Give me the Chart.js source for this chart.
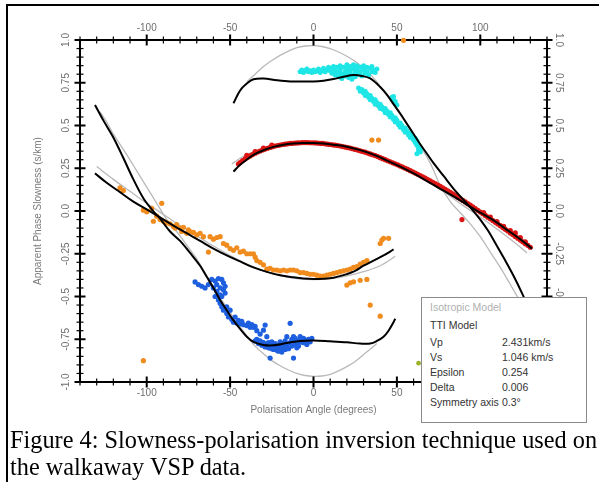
<!DOCTYPE html>
<html>
<head>
<meta charset="utf-8">
<script src="https://cdn.jsdelivr.net/npm/chart.js@4"></script>
<style>
html,body{margin:0;padding:0;background:#fff;}
#wrap{position:relative;width:599px;height:482px;overflow:hidden;background:#fff;}
#c{position:absolute;left:0;top:0;}
#frame{position:absolute;left:6px;top:4px;width:700px;height:600px;border-left:2px solid #000;border-top:2px solid #000;pointer-events:none;}
#legend{position:absolute;left:421px;top:297px;width:164px;height:124px;background:#fff;border:1px solid #8a8a8a;font-family:'Liberation Sans',Arial,sans-serif;font-size:10.5px;line-height:12px;color:#333;}
#legend .r{position:absolute;left:8px;white-space:nowrap;}
#legend .v{position:absolute;left:80px;white-space:nowrap;}
#caption{position:absolute;left:10px;top:426px;font-family:'Liberation Serif','Times New Roman',serif;font-size:24.3px;line-height:27px;color:#000;white-space:nowrap;}
</style>
</head>
<body>
<div id="wrap">
<canvas id="c" width="599" height="482"></canvas>
<div id="frame"></div>
<div id="legend">
  <div class="r" style="top:3px;color:#b0b0b0">Isotropic Model</div>
  <div class="r" style="top:21px">TTI Model</div>
  <div class="r" style="top:38px">Vp</div><div class="v" style="top:38px">2.431km/s</div>
  <div class="r" style="top:53px">Vs</div><div class="v" style="top:53px">1.046 km/s</div>
  <div class="r" style="top:68px">Epsilon</div><div class="v" style="top:68px">0.254</div>
  <div class="r" style="top:83px">Delta</div><div class="v" style="top:83px">0.006</div>
  <div class="r" style="top:98px">Symmetry axis</div><div class="v" style="top:98px">0.3°</div>
</div>
<div id="caption">Figure 4: Slowness-polarisation inversion technique used on<br>the walkaway VSP data.</div>
</div>
<script>
// ---- tick labels ----
const xLabelValues = [-100, -50, 0, 50, 100];
const yLabelValues = [1, 0.75, 0.5, 0.25, 0, -0.25, -0.5, -0.75, -1];
const yLabelText   = ['1.0', '0.75', '0.5', '0.25', '0.0', '-0.25', '-0.5', '-0.75', '-1.0'];

// ---- TTI model curves (black) [angle, slowness] ----
const ttiQsUpper = [[-48,0.63],[-44,0.705],[-40,0.745],[-36,0.77],[-30,0.775],[-22,0.765],[-14,0.758],[-6,0.757],[0,0.757],[6,0.762],[12,0.772],[18,0.785],[24,0.795],[29,0.79],[34,0.775],[40,0.725],[44,0.68],[48,0.625],[52,0.57],[56,0.51],[60,0.45],[64,0.39],[68,0.335],[72,0.28],[78,0.205],[84,0.13],[90,0.065],[95,0.01],[100,-0.05],[105,-0.12],[110,-0.205],[115,-0.29],[120,-0.38],[125,-0.48],[130,-0.59]];
const ttiQsLower = [[-131,0.62],[-126,0.53],[-120,0.43],[-114,0.31],[-108,0.185],[-102,0.075],[-97,0.01],[-92,-0.045],[-86,-0.12],[-80,-0.175],[-74,-0.245],[-68,-0.32],[-64,-0.385],[-60,-0.45],[-56,-0.52],[-52,-0.58],[-48,-0.64],[-44,-0.69],[-40,-0.735],[-36,-0.765],[-30,-0.783],[-24,-0.785],[-16,-0.772],[-8,-0.76],[0,-0.757],[10,-0.762],[20,-0.768],[28,-0.775],[34,-0.775],[38,-0.76],[42,-0.735],[45,-0.70],[48,-0.65],[49,-0.63]];
const ttiQpUpper = [[-48,0.23],[-44,0.27],[-40,0.30],[-36,0.328],[-30,0.355],[-24,0.375],[-18,0.388],[-12,0.395],[-6,0.398],[0,0.398],[6,0.395],[12,0.388],[20,0.376],[28,0.356],[36,0.33],[44,0.295],[52,0.26],[60,0.22],[68,0.175],[76,0.13],[84,0.085],[92,0.037],[100,-0.01],[108,-0.055],[116,-0.11],[124,-0.165],[131,-0.22]];
const ttiQpLower = [[-131,0.22],[-124,0.165],[-116,0.11],[-108,0.055],[-100,0.01],[-92,-0.037],[-84,-0.085],[-76,-0.13],[-68,-0.175],[-60,-0.22],[-52,-0.26],[-44,-0.295],[-36,-0.33],[-28,-0.356],[-20,-0.376],[-12,-0.388],[-6,-0.395],[0,-0.398],[6,-0.396],[12,-0.39],[18,-0.375],[24,-0.355],[30,-0.32],[36,-0.29],[42,-0.26],[48,-0.225]];

// ---- Isotropic model curves (grey) ----
const isoQsUpper = [[-40,0.755],[-35,0.80],[-30,0.845],[-25,0.88],[-20,0.91],[-15,0.935],[-10,0.955],[-5,0.965],[0,0.967],[5,0.962],[10,0.95],[15,0.93],[20,0.905],[25,0.875],[30,0.835],[35,0.79],[40,0.73],[46,0.65],[52,0.565],[58,0.475],[64,0.38],[70,0.28],[76,0.15],[82,0.055],[88,-0.01],[94,-0.075],[100,-0.15],[106,-0.24],[112,-0.33],[118,-0.43],[124,-0.53],[130,-0.63]];
const isoQsLower = [[-128,0.58],[-124,0.52],[-120,0.45],[-112,0.33],[-106,0.235],[-100,0.14],[-94,0.045],[-88,-0.05],[-82,-0.12],[-76,-0.2],[-70,-0.28],[-64,-0.38],[-58,-0.475],[-52,-0.565],[-46,-0.65],[-40,-0.73],[-35,-0.79],[-30,-0.835],[-25,-0.875],[-20,-0.905],[-15,-0.93],[-10,-0.95],[-5,-0.962],[0,-0.967],[5,-0.965],[10,-0.955],[15,-0.935],[20,-0.91],[25,-0.88],[30,-0.84],[35,-0.80],[38,-0.775]];
const isoQpUpper = [[-49,0.275],[-42,0.32],[-35,0.35],[-28,0.372],[-20,0.388],[-10,0.398],[0,0.401],[10,0.395],[20,0.38],[30,0.355],[40,0.32],[50,0.275],[60,0.222],[70,0.163],[80,0.10],[90,0.03],[100,-0.035],[110,-0.105],[120,-0.18],[128,-0.245]];
const isoQpLower = [[-130,0.26],[-120,0.185],[-110,0.115],[-100,0.045],[-90,-0.02],[-80,-0.085],[-70,-0.145],[-60,-0.205],[-50,-0.26],[-40,-0.31],[-30,-0.35],[-20,-0.378],[-10,-0.395],[0,-0.401],[10,-0.396],[20,-0.38],[30,-0.355],[40,-0.32],[49,-0.265]];

// ---- measured data ----
const cyanData = [[-8,0.815],[-7,0.825],[-6,0.81],[-5,0.82],[-4,0.83],[-3,0.815],[-2,0.82],[-1,0.81],[0,0.825],[1,0.815],[2,0.82],[3,0.83],[4,0.81],[5,0.82],[6,0.835],[7,0.815],[8,0.825],[9,0.84],[10,0.82],
 [11,0.835],[11,0.805],[12,0.845],[13,0.82],[13,0.795],[14,0.84],[15,0.81],[15,0.785],[16,0.85],[16,0.825],[17,0.80],[17,0.775],[18,0.84],[19,0.815],[19,0.79],[20,0.855],[20,0.83],[21,0.805],[21,0.78],[22,0.845],[22,0.82],[23,0.795],[23,0.77],[24,0.855],[24,0.83],[25,0.81],[25,0.785],[26,0.85],[26,0.825],[27,0.80],[28,0.84],[28,0.815],[29,0.79],[30,0.85],[30,0.825],[31,0.805],[32,0.84],[32,0.815],[33,0.795],[34,0.835],[35,0.815],[35,0.845],[36,0.825],[37,0.81],[38,0.83],
 [27,0.72],[28,0.70],[29,0.71],[30,0.69],[31,0.70],[31,0.675],[32,0.685],[33,0.665],[34,0.675],[34,0.65],[35,0.66],[36,0.64],[37,0.65],[37,0.625],[38,0.635],[39,0.615],[40,0.625],[40,0.60],[41,0.61],[42,0.59],[43,0.60],[43,0.575],[44,0.585],[45,0.565],[46,0.575],[46,0.55],[47,0.56],[48,0.535],[49,0.545],[49,0.52],[50,0.53],[51,0.505],[52,0.515],[52,0.49],[53,0.50],[54,0.475],[55,0.485],[55,0.46],[56,0.47],[57,0.445],[58,0.455],[58,0.43],[59,0.44],[60,0.415],[61,0.425],[61,0.40],[62,0.41],[62,0.385],[63,0.37],[63,0.355],[64,0.345],[62,0.335],[64,0.36],[47,0.665],[48,0.65],[49,0.64],[50,0.62],[48,0.67]];
const redData = [[-45,0.275],[-44,0.283],[-42.5,0.295],[-41,0.305],[-39.5,0.315],[-38,0.322],[-36.5,0.33],[-35,0.338],[-33.5,0.345],[-32,0.351],[-30.5,0.357],[-29,0.362],[-27.5,0.367],[-26,0.372],[-24.5,0.376],[-23,0.38],[-21.5,0.383],[-20,0.386],[-18.5,0.389],[-17,0.391],[-15.5,0.393],[-14,0.395],[-12.5,0.396],[-11,0.397],[-9.5,0.398],[-8,0.399],[-6.5,0.4],[-5,0.4],[-3.5,0.4],[-2,0.399],[-0.5,0.399],[1,0.398],[2.5,0.397],[4,0.396],[5.5,0.395],[7,0.393],[8.5,0.391],[10,0.389],[11.5,0.387],[13,0.385],[14.5,0.383],[16,0.38],[17.5,0.377],[19,0.374],[20.5,0.371],[22,0.368],[23.5,0.364],[25,0.36],[26.5,0.356],[28,0.352],[29.5,0.348],[31,0.344],[32.5,0.339],[34,0.334],[35.5,0.329],[37,0.324],[38.5,0.318],[40,0.312],[41.5,0.306],[43,0.3],[44.5,0.294],[46,0.288],[47.5,0.282],[49,0.276],[50.5,0.27],[52,0.263],[53.5,0.257],[55,0.25],[56.5,0.243],[58,0.236],[59.5,0.229],[61,0.222],[62.5,0.215],[64,0.207],[65.5,0.2],[67,0.192],[68.5,0.184],[70,0.176],[71.5,0.168],[73,0.16],[74.5,0.152],[76,0.144],[77.5,0.136],[79,0.127],[80.5,0.118],[82,0.109],[83.5,0.1],[85,0.09],[86.5,0.081],[88,0.072],[89.5,0.062],[91,0.053],[92.5,0.043],[94,0.034],[95.5,0.024],[97,0.014],[98.5,0.004],[100,-0.006],[101.5,-0.016],[103,-0.026],[104.5,-0.036],[106,-0.046],[107.5,-0.056],[109,-0.066],[110.5,-0.076],[112,-0.086],[113.5,-0.097],[115,-0.107],[116.5,-0.117],[118,-0.128],[119.5,-0.138],[121,-0.149],[122.5,-0.159],[124,-0.17],[125.5,-0.18],[127,-0.191],[128.5,-0.201],[130,-0.212],
 [-40,0.325],[-35,0.348],[-30,0.368],[-25,0.385],[102,-0.01],[106,-0.035],[110,-0.062],[114,-0.09],[118,-0.115],[121,-0.128],[124,-0.155],[127,-0.18],[89,-0.05]];
const orangeData = [[-116,0.135],[-114,0.12],[-102,0.005],[-100,-0.005],[-97,0.015],[-96,-0.06],[-94,-0.03],[-92,-0.05],[-91,0.045],[-90,-0.06],[-88,-0.07],[-86,-0.075],[-84,-0.09],[-83,-0.10],[-82,-0.08],[-80,-0.1],[-79,-0.12],[-78,-0.095],[-76,-0.13],[-75,-0.11],[-74,-0.12],[-72,-0.125],[-70,-0.14],[-68,-0.13],[-66,-0.15],[-63,-0.24],[-62,-0.15],[-60,-0.165],[-58,-0.155],[-56,-0.15],[-54,-0.19],[-52,-0.2],[-50,-0.22],[-48,-0.23],[-46,-0.215],[-44,-0.24],[-42,-0.235],[-40,-0.25],[-38,-0.25],[-36,-0.25],[-35,-0.27],[-34,-0.29],[-32,-0.30],[-30,-0.315],[-28,-0.34],[-26,-0.335],[-24,-0.345],[-22,-0.345],[-20,-0.35],[-18,-0.345],[-16,-0.35],[-14,-0.345],[-12,-0.345],[-10,-0.35],[-8,-0.36],[-6,-0.36],[-4,-0.365],[-2,-0.37],[0,-0.37],[2,-0.375],[4,-0.38],[6,-0.38],[8,-0.375],[10,-0.37],[12,-0.365],[14,-0.36],[16,-0.355],[18,-0.35],[20,-0.345],[22,-0.34],[24,-0.33],[26,-0.325],[28,-0.31],[30,-0.30],[32,-0.29],[20,-0.433],[22,-0.42],[24,-0.414],[28,-0.405],[32,-0.40],[34,-0.55],[40,-0.615],[40,-0.19],[41,-0.17],[42,-0.16],[45,-0.16],[-102,-0.875],[38.6,0.62],[35,0.415],[39,0.415],[54,0.998]];
const blueData = [[-71,-0.415],[-69,-0.43],[-67,-0.44],[-65,-0.45],[-63,-0.43],[-61,-0.40],[-59,-0.41],[-57,-0.395],[-55,-0.40],[-54,-0.42],[-53,-0.44],[-54,-0.46],[-53,-0.48],[-55,-0.50],[-57,-0.52],[-56,-0.54],[-55,-0.56],[-54,-0.58],[-52,-0.60],[-51,-0.62],[-49,-0.635],[-48,-0.65],[-46,-0.655],[-44,-0.66],[-42,-0.665],[-40,-0.67],[-38,-0.68],[-36,-0.68],[-34,-0.70],[-32,-0.72],[-30,-0.697],[-29,-0.667],[-28,-0.735],[-34,-0.75],[-32,-0.76],[-30,-0.77],[-28,-0.785],[-26,-0.78],[-24,-0.79],[-22,-0.795],[-20,-0.79],[-18,-0.775],[-16,-0.78],[-14,-0.77],[-12,-0.755],[-10,-0.76],[-8,-0.75],[-6,-0.745],[-4,-0.76],[-2,-0.765],[-24,-0.81],[-22,-0.815],[-20,-0.805],[-18,-0.80],[-16,-0.795],[-26,-0.80],[-10,-0.80],[-14,-0.657],[-16,-0.735],[-26,-0.86],[-12,-0.86],[-8,-0.735],[-12,-0.735],[-20,-0.765],[-6,-0.77],[-4,-0.78],
 [-35,-0.76],[-33,-0.775],[-31,-0.785],[-29,-0.795],[-27,-0.80],[-25,-0.805],[-23,-0.80],[-21,-0.785],[-19,-0.79],[-17,-0.81],[-15,-0.805],[-13,-0.79],[-11,-0.78],[-9,-0.77],[-7,-0.765],[-5,-0.755],[-3,-0.75],[-1,-0.745],[-27,-0.77],[-25,-0.765],[-23,-0.775],[-21,-0.82],[-19,-0.825],[-17,-0.76],[-13,-0.75],[-11,-0.745],[-9,-0.79],[-58,-0.43],[-56,-0.45],[-58,-0.47],[-56,-0.49],[-59,-0.50],[-60,-0.45],[-52,-0.56],[-50,-0.58],[-47,-0.62],[-45,-0.64],[-43,-0.645],[-39,-0.655],[-37,-0.665],[-35,-0.675]];
const greenData = [[63,-0.89]];

const toXY = arr => arr.map(p => ({x: p[0], y: p[1]}));

function curve(arr, color, width, order) {
  return {data: toXY(arr), showLine: true, borderColor: color, borderWidth: width,
    pointRadius: 0, tension: 0.35, fill: false, order: order};
}
function pts(arr, color, r, order) {
  return {data: toXY(arr), showLine: false, backgroundColor: color, borderWidth: 0,
    pointRadius: r, pointStyle: 'circle', order: order, clip: false};
}

const tickMarks = {
  id: 'tickMarks',
  afterDatasetsDraw(chart) {
    const ctx = chart.ctx, a = chart.chartArea;
    const xs = chart.scales.x, ys = chart.scales.y;
    ctx.save();
    ctx.strokeStyle = '#000';
    xs.ticks.forEach(t => {
      const px = xs.getPixelForValue(t.value);
      const major = Math.abs(t.value / 50 - Math.round(t.value / 50)) < 1e-6;
      const L = major ? 5.5 : 3.5;
      ctx.lineWidth = major ? 2 : 1.2;
      [a.top, a.bottom].forEach(y => {
        ctx.beginPath(); ctx.moveTo(px, y - L); ctx.lineTo(px, y + L); ctx.stroke();
      });
    });
    ys.ticks.forEach(t => {
      const py = ys.getPixelForValue(t.value);
      const major = Math.abs(t.value / 0.25 - Math.round(t.value / 0.25)) < 1e-6;
      const L = major ? 5.5 : 3.5;
      ctx.lineWidth = major ? 2 : 1.2;
      [a.left, a.right].forEach(x => {
        ctx.beginPath(); ctx.moveTo(x - L, py); ctx.lineTo(x + L, py); ctx.stroke();
      });
    });
    ctx.restore();
  }
};

const tickFont = {family: "'Liberation Sans', Arial, sans-serif", size: 10};
const tickColor = '#6e6e6e';
const xLabel = v => xLabelValues.some(w => Math.abs(w - v) < 1e-6) ? String(v) : '';
const yLabel = v => {
  const i = yLabelValues.findIndex(w => Math.abs(w - v) < 1e-6);
  return i >= 0 ? yLabelText[i] : '';
};
const baseX = {type: 'linear', min: -140, max: 140,
  grid: {display: false, drawTicks: false},
  border: {display: true, color: '#000', width: 2}};
const baseY = {type: 'linear', min: -1, max: 1,
  grid: {display: false, drawTicks: false},
  border: {display: true, color: '#000', width: 2}};

new Chart(document.getElementById('c'), {
  type: 'scatter',
  data: {datasets: [
    curve(isoQsUpper, '#b9b9b9', 1.3, 3),
    curve(isoQsLower, '#b9b9b9', 1.3, 3),
    curve(isoQpUpper, '#b9b9b9', 1.3, 3),
    curve(isoQpLower, '#b9b9b9', 1.3, 3),
    pts(cyanData, '#1ee6e6', 2.5, 2),
    pts(redData, '#dc1414', 2.6, 2),
    pts(orangeData, '#f08c1e', 2.6, 2),
    pts(blueData, '#1e5fe0', 2.6, 2),
    pts(greenData, '#9ab32a', 2.4, 2),
    curve(ttiQsUpper, '#000', 2, 1),
    curve(ttiQsLower, '#000', 2, 1),
    curve(ttiQpUpper, '#000', 2, 1),
    curve(ttiQpLower, '#000', 2, 1)
  ]},
  options: {
    responsive: false, animation: false, events: [],
    layout: {padding: {left: 0, right: 0, top: 0, bottom: 60}},
    plugins: {legend: {display: false}, tooltip: {enabled: false}},
    scales: {
      x: Object.assign({}, baseX, {position: 'bottom',
        afterFit: s => { s.height = 40; },
        ticks: {stepSize: 10, maxTicksLimit: 100, autoSkip: false, maxRotation: 0, minRotation: 0,
          padding: 5, color: tickColor, font: tickFont, callback: xLabel},
        title: {display: true, text: 'Polarisation Angle (degrees)', color: '#7a7a7a',
          font: {family: "'Liberation Sans', Arial, sans-serif", size: 10}, padding: {top: 0, bottom: 6}}}),
      x2: Object.assign({}, baseX, {position: 'top',
        afterFit: s => { s.height = 40; },
        ticks: {stepSize: 10, maxTicksLimit: 100, autoSkip: false, maxRotation: 0, minRotation: 0,
          padding: 6, color: tickColor, font: tickFont, callback: xLabel}}),
      y: Object.assign({}, baseY, {position: 'left',
        afterFit: s => { s.width = 80; },
        ticks: {stepSize: 0.05, maxTicksLimit: 100, autoSkip: false, minRotation: 90, maxRotation: 90,
          crossAlign: 'center', padding: 2, color: tickColor, font: tickFont, callback: yLabel},
        title: {display: true, text: 'Apparent Phase Slowness (s/km)', color: '#7a7a7a',
          font: {family: "'Liberation Sans', Arial, sans-serif", size: 10}, padding: {top: 32, bottom: 0}}}),
      y2: Object.assign({}, baseY, {position: 'right',
        afterFit: s => { s.width = 52; },
        ticks: {stepSize: 0.05, maxTicksLimit: 100, autoSkip: false, minRotation: -90, maxRotation: -90,
          crossAlign: 'center', padding: 0, color: tickColor, font: tickFont, callback: yLabel}})
    }
  },
  plugins: [tickMarks]
});
</script>
</body>
</html>
